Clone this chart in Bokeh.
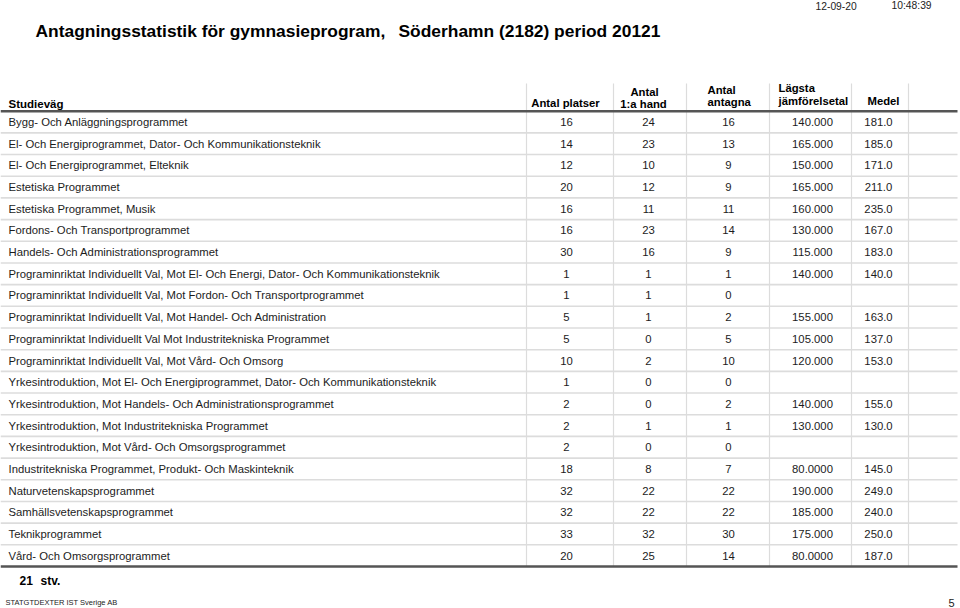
from bokeh.plotting import figure
from bokeh.models import Range1d, ColumnDataSource
from bokeh.core.properties import value
from bokeh.embed import file_html
from bokeh.resources import INLINE

# ---------------- data ----------------
studievag = [
    "Bygg- Och Anläggningsprogrammet",
    "El- Och Energiprogrammet, Dator- Och Kommunikationsteknik",
    "El- Och Energiprogrammet, Elteknik",
    "Estetiska Programmet",
    "Estetiska Programmet, Musik",
    "Fordons- Och Transportprogrammet",
    "Handels- Och Administrationsprogrammet",
    "Programinriktat Individuellt Val, Mot El- Och Energi, Dator- Och Kommunikationsteknik",
    "Programinriktat Individuellt Val, Mot Fordon- Och Transportprogrammet",
    "Programinriktat Individuellt Val, Mot Handel- Och Administration",
    "Programinriktat Individuellt Val Mot Industritekniska Programmet",
    "Programinriktat Individuellt Val, Mot Vård- Och Omsorg",
    "Yrkesintroduktion, Mot El- Och Energiprogrammet, Dator- Och Kommunikationsteknik",
    "Yrkesintroduktion, Mot Handels- Och Administrationsprogrammet",
    "Yrkesintroduktion, Mot Industritekniska Programmet",
    "Yrkesintroduktion, Mot Vård- Och Omsorgsprogrammet",
    "Industritekniska Programmet, Produkt- Och Maskinteknik",
    "Naturvetenskapsprogrammet",
    "Samhällsvetenskapsprogrammet",
    "Teknikprogrammet",
    "Vård- Och Omsorgsprogrammet",
]
antal_platser = [16, 14, 12, 20, 16, 16, 30, 1, 1, 5, 5, 10, 1, 2, 2, 2, 18, 32, 32, 33, 20]
antal_1a_hand = [24, 23, 10, 12, 11, 23, 16, 1, 1, 1, 0, 2, 0, 0, 1, 0, 8, 22, 22, 32, 25]
antal_antagna = [16, 13, 9, 9, 11, 14, 9, 1, 0, 2, 5, 10, 0, 2, 1, 0, 7, 22, 22, 30, 14]
lagsta_jamforelsetal = [140.0, 165.0, 150.0, 165.0, 160.0, 130.0, 115.0, 140.0, None, 155.0,
                        105.0, 120.0, None, 140.0, 130.0, None, 80.0, 190.0, 185.0, 175.0, 80.0]
medel = [181.0, 185.0, 171.0, 211.0, 235.0, 167.0, 183.0, 140.0, None, 163.0,
         137.0, 153.0, None, 155.0, 130.0, None, 145.0, 249.0, 240.0, 250.0, 187.0]

title_left = "Antagningsstatistik för gymnasieprogram,"
title_right = "Söderhamn (2182) period 20121"
datum = "12-09-20"
tid = "10:48:39"
antal_stv = "21"
stv_label = "stv."
footer_left = "STATGTDEXTER  IST Sverige AB"
page_no = "5"

# ---------------- layout ----------------
FONT = value("Liberation Sans")
TXT = "#1c1c1c"
n = len(studievag)
top = 110.7
row_h = 21.68
ys = [top + (i + 0.5) * row_h for i in range(n)]

W, H = 960, 608
p = figure(width=W, height=H, x_range=Range1d(0, W), y_range=Range1d(H, 0),
           output_backend="svg", toolbar_location=None, min_border=0,
           x_axis_type=None, y_axis_type=None)
p.grid.visible = False
p.outline_line_color = None
p.background_fill_color = "white"
p.border_fill_color = "white"

# grid lines
sep_y = [top + i * row_h for i in range(1, n)]
p.segment(x0=[0] * len(sep_y), y0=sep_y, x1=[957] * len(sep_y), y1=sep_y,
          line_color="#dcdcdc", line_width=1.6)
vx = [526, 613, 686, 769, 851, 908]
bottom = top + n * row_h
p.segment(x0=vx, y0=[83] * len(vx), x1=vx, y1=[bottom] * len(vx),
          line_color="#dcdcdc", line_width=1.2)
p.segment(x0=[0, 0], y0=[top, bottom], x1=[957, 957], y1=[top, bottom],
          line_color="#555555", line_width=2.4)

# body text
def fmt_l(v):
    return "" if v is None else f"{v:#.6g}"

def fmt_m(v):
    return "" if v is None else f"{v:.1f}"

src = ColumnDataSource(dict(
    y=ys, name=studievag,
    platser=[str(v) for v in antal_platser],
    hand=[str(v) for v in antal_1a_hand],
    antagna=[str(v) for v in antal_antagna],
    lagsta=[fmt_l(v) for v in lagsta_jamforelsetal],
    medel=[fmt_m(v) for v in medel],
))
p.text(x=8, y="y", text="name", source=src, text_font=FONT, text_font_size=value("11.3px"),
       text_align="left", text_baseline="middle", text_color=TXT)
for col, cx in [("platser", 566), ("hand", 648), ("antagna", 728), ("lagsta", 812), ("medel", 878)]:
    p.text(x=cx, y="y", text=col, source=src, text_font=FONT, text_font_size=value("11.3px"),
           text_align="center", text_baseline="middle", text_color=TXT)

# header
def t(x, y, s, size, bold=False, align="left", baseline="middle", color="#000000"):
    p.text(x=[x], y=[y], text=[s], text_font=FONT, text_font_size=value(size),
           text_font_style="bold" if bold else "normal",
           text_align=align, text_baseline=baseline, text_color=color)

t(8, 103, "Studieväg", "11.5px", bold=True)
t(565, 102, "Antal platser", "11.3px", bold=True, align="center")
t(644, 91, "Antal", "11.3px", bold=True, align="center")
t(643, 103.5, "1:a hand", "11.3px", bold=True, align="center")
t(707, 89.5, "Antal", "11.3px", bold=True)
t(707, 101.5, "antagna", "11.3px", bold=True)
t(778, 87, "Lägsta", "11.3px", bold=True)
t(778, 100.5, "jämförelsetal", "11.3px", bold=True)
t(883, 100, "Medel", "11.3px", bold=True, align="center")

# title
t(35, 30.5, title_left, "17.4px", bold=True)
t(398, 30.5, title_right, "17.4px", bold=True)
t(815, 5, datum, "10.3px", color="#222222")
t(891, 5, tid, "10.3px", color="#222222")

# footer
t(19, 580, antal_stv, "12px", bold=True)
t(40, 580, stv_label, "12px", bold=True)
t(5, 602, footer_left, "7.5px", color="#222222")
t(954, 602, page_no, "11px", align="right", color="#222222")

open("out.html", "w").write(file_html(p, INLINE))
